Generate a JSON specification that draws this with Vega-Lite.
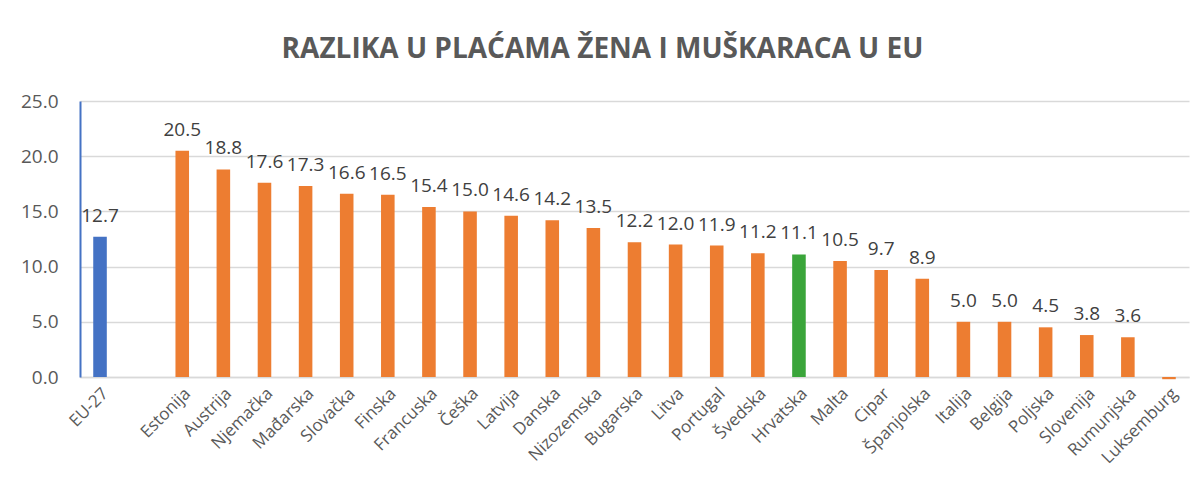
{
  "$schema": "https://vega.github.io/schema/vega-lite/v6.json",
  "width": 1109,
  "height": 276,
  "autosize": "none",
  "padding": {"left": 80, "top": 101, "right": 14, "bottom": 114},
  "background": "white",
  "title": {
    "text": "RAZLIKA U PLAĆAMA ŽENA I MUŠKARACA U EU",
    "font": "Open Sans",
    "fontSize": 28,
    "fontWeight": "bold",
    "color": "#595959",
    "anchor": "middle",
    "dx": -32,
    "offset": 28
  },
  "config": {
    "view": {"stroke": null},
    "font": "Open Sans"
  },
  "data": {
    "values": [
      {"country": "EU-27", "value": 12.7, "group": "eu", "label": "12.7"},
      {"country": " ", "value": 0, "group": "none", "label": ""},
      {"country": "Estonija", "value": 20.5, "group": "member", "label": "20.5"},
      {"country": "Austrija", "value": 18.8, "group": "member", "label": "18.8"},
      {"country": "Njemačka", "value": 17.6, "group": "member", "label": "17.6"},
      {"country": "Mađarska", "value": 17.3, "group": "member", "label": "17.3"},
      {"country": "Slovačka", "value": 16.6, "group": "member", "label": "16.6"},
      {"country": "Finska", "value": 16.5, "group": "member", "label": "16.5"},
      {"country": "Francuska", "value": 15.4, "group": "member", "label": "15.4"},
      {"country": "Češka", "value": 15.0, "group": "member", "label": "15.0"},
      {"country": "Latvija", "value": 14.6, "group": "member", "label": "14.6"},
      {"country": "Danska", "value": 14.2, "group": "member", "label": "14.2"},
      {"country": "Nizozemska", "value": 13.5, "group": "member", "label": "13.5"},
      {"country": "Bugarska", "value": 12.2, "group": "member", "label": "12.2"},
      {"country": "Litva", "value": 12.0, "group": "member", "label": "12.0"},
      {"country": "Portugal", "value": 11.9, "group": "member", "label": "11.9"},
      {"country": "Švedska", "value": 11.2, "group": "member", "label": "11.2"},
      {"country": "Hrvatska", "value": 11.1, "group": "hr", "label": "11.1"},
      {"country": "Malta", "value": 10.5, "group": "member", "label": "10.5"},
      {"country": "Cipar", "value": 9.7, "group": "member", "label": "9.7"},
      {"country": "Španjolska", "value": 8.9, "group": "member", "label": "8.9"},
      {"country": "Italija", "value": 5.0, "group": "member", "label": "5.0"},
      {"country": "Belgija", "value": 5.0, "group": "member", "label": "5.0"},
      {"country": "Poljska", "value": 4.5, "group": "member", "label": "4.5"},
      {"country": "Slovenija", "value": 3.8, "group": "member", "label": "3.8"},
      {"country": "Rumunjska", "value": 3.6, "group": "member", "label": "3.6"},
      {"country": "Luksemburg", "value": -0.2, "group": "member", "label": ""}
    ]
  },
  "encoding": {
    "x": {
      "field": "country",
      "type": "nominal",
      "sort": null,
      "scale": {
        "domain": ["EU-27", " ", "Estonija", "Austrija", "Njemačka", "Mađarska", "Slovačka", "Finska", "Francuska", "Češka", "Latvija", "Danska", "Nizozemska", "Bugarska", "Litva", "Portugal", "Švedska", "Hrvatska", "Malta", "Cipar", "Španjolska", "Italija", "Belgija", "Poljska", "Slovenija", "Rumunjska", "Luksemburg"],
        "paddingInner": 0.67,
        "paddingOuter": 0.322
      },
      "axis": {
        "title": null,
        "labelAngle": -45,
        "labelFontSize": 17,
        "labelColor": "#595959",
        "labelPadding": 8,
        "ticks": false,
        "domain": true,
        "domainColor": "#D9D9D9",
        "domainWidth": 1.5
      }
    },
    "y": {
      "field": "value",
      "type": "quantitative",
      "scale": {"domain": [0, 25], "nice": false},
      "axis": {
        "title": null,
        "values": [0, 5, 10, 15, 20, 25],
        "format": ".1f",
        "labelFontSize": 19,
        "labelColor": "#595959",
        "labelPadding": 22,
        "ticks": false,
        "domainColor": "#4472C4",
        "domainWidth": 2,
        "grid": true,
        "gridColor": "#D9D9D9",
        "gridWidth": 1.5
      }
    }
  },
  "layer": [
    {
      "mark": {"type": "bar", "clip": false},
      "encoding": {
        "color": {
          "field": "group",
          "type": "nominal",
          "scale": {"domain": ["eu", "member", "hr", "none"], "range": ["#4472C4", "#ED7D31", "#3AA53A", "#FFFFFF"]},
          "legend": null
        }
      }
    },
    {
      "mark": {"type": "text", "baseline": "alphabetic", "dy": -15, "fontSize": 19, "color": "#404040"},
      "encoding": {
        "text": {"field": "label", "type": "nominal"}
      }
    }
  ]
}
